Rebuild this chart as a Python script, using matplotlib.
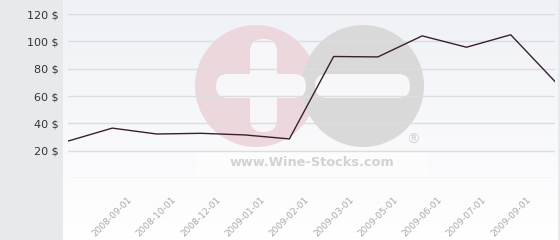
import matplotlib
matplotlib.use("Agg")
import matplotlib.pyplot as plt
import numpy as np
from matplotlib.patches import Circle, FancyBboxPatch, Rectangle

# price history
dates = ['', '2008-09-01', '2008-10-01', '2008-12-01', '2009-01-01', '2009-02-01',
         '2009-03-01', '2009-05-01', '2009-06-01', '2009-07-01', '2009-09-01', '']
prices = [27, 36.5, 32.2, 32.7, 31.5, 28.6, 88.9, 88.6, 104, 95.7, 104.8, 70.6]
yticks = [20, 40, 60, 80, 100, 120]
gridlines = [0, 20, 40, 60, 80, 100, 120]

W, H = 560, 240
fig = plt.figure(figsize=(W / 100, H / 100), dpi=100)
fig.patch.set_facecolor('#e7eaed')

def px(x0, y0, x1, y1):
    # pixel box (top-left origin) -> figure fraction rect
    return [x0 / W, 1 - y1 / H, (x1 - x0) / W, (y1 - y0) / H]

# background gradient panel
bg = fig.add_axes(px(63, 0, 558, 240))
grad = np.linspace(0, 1, 100).reshape(-1, 1)
c_top = np.array([0.94, 0.945, 0.965])
c_bot = np.array([1.0, 1.0, 1.0])
img = c_top + (c_bot - c_top) * grad[..., None]
bg.imshow(img, aspect='auto', extent=[0, 1, 0, 1])
bg.set_axis_off()

# watermark logo (figure pixel coordinates)
wm = fig.add_axes([0, 0, 1, 1], facecolor='none')
wm.set_xlim(0, W)
wm.set_ylim(H, 0)
wm.set_axis_off()
bar_c = '#f7f7f9'
rs = 'round,pad=0,rounding_size=12'
wm.add_patch(Rectangle((197, 152), 230, 23, color='#fcfcfd', lw=0))
wm.add_patch(Circle((256, 86), 61, color='#ebd7dc', lw=0))
wm.add_patch(Circle((363, 86), 61, color='#d9d9d9', lw=0))
wm.add_patch(FancyBboxPatch((216, 74), 90, 24, boxstyle=rs, color=bar_c, lw=0))
wm.add_patch(FancyBboxPatch((250, 39), 27, 93, boxstyle='round,pad=0,rounding_size=13',
                            color=bar_c, lw=0))
wm.add_patch(FancyBboxPatch((315, 74), 95, 24, boxstyle=rs, color=bar_c, lw=0))
wm.text(312, 162, 'www.Wine-Stocks.com', ha='center', va='center', fontsize=9.3,
        fontweight='bold', color='#d2d2d2')
wm.text(413, 140, '®', ha='center', va='center', fontsize=10, color='#d2d2d2')

# main chart
ax = fig.add_axes(px(68, 14, 555, 178), facecolor='none')
x = np.arange(len(prices))
ax.plot(x, prices, color='#3b1f2e', lw=1.0, zorder=3)
for g in gridlines:
    ax.axhline(g, color='#dcdde2', lw=1.0, zorder=1)
ax.set_xlim(0, len(prices) - 1)
ax.set_ylim(0, 120)
for s in ax.spines.values():
    s.set_visible(False)
ax.set_yticks(yticks)
ax.set_yticklabels([f'{v} $' for v in yticks], fontsize=8, color='#333333')
ax.tick_params(axis='y', length=0, pad=7)
ax.set_xticks(x[1:-1])
ax.set_xticklabels(dates[1:-1], rotation=45, ha='center', va='top',
                   fontsize=6.5, color='#a8a8a8')
ax.tick_params(axis='x', length=0, pad=12)

fig.savefig('out.png', dpi=100, facecolor=fig.get_facecolor())
